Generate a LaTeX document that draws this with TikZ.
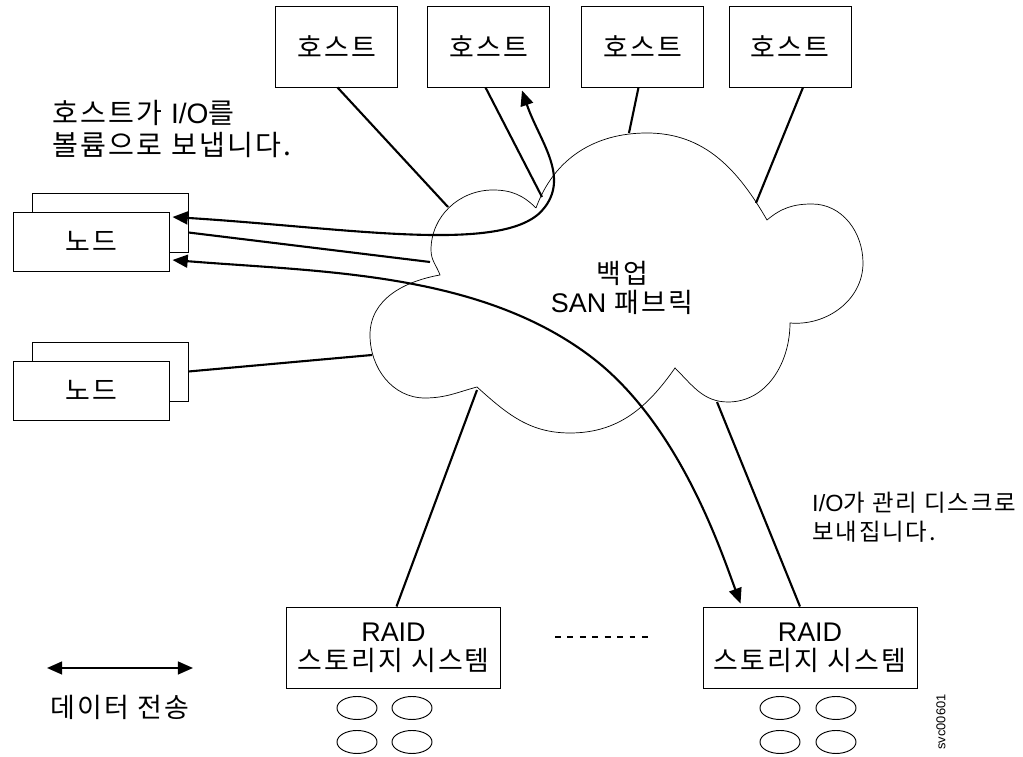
\documentclass[tikz,border=0pt]{standalone}
\usepackage{fontspec}
\setmainfont{Noto Sans CJK KR}[LetterSpace=8]
\newfontfamily\latfont{Liberation Sans}
\usetikzlibrary{calc,arrows.meta}

\tikzset{
  box/.style={draw=black, line width=0.8pt, fill=white, inner sep=0pt},
  hostbox/.style={box, minimum width=3.66cm, minimum height=2.43cm},
  nodebox/.style={box, minimum width=4.68cm, minimum height=1.77cm},
  raidbox/.style={box, minimum width=6.42cm, minimum height=2.43cm, align=center},
  link/.style={black, line width=1.8pt},
  flow/.style={black, line width=1.8pt, {Triangle[length=13pt,width=11pt]}-{Triangle[length=13pt,width=11pt]}},
  cloudline/.style={black, line width=0.6pt},
  dotline/.style={black, line width=1.3pt, dash pattern=on 5pt off 5.6pt}
}

\begin{document}
\begin{tikzpicture}[x=0.03cm, y=0.03cm, every node/.style={font=\fontsize{23}{25}\selectfont}]
\useasboundingbox (0,0) rectangle (1023,757);

% cloud
\draw[cloudline] (536,549) to[out=70,in=180] (647,624) to[out=0,in=120] (767,537)
  to[out=40,in=180] (812,553) to[out=0,in=90] (863,494) to[out=-90,in=-5] (790,434)
  to[out=-90,in=0] (728,355) to[out=180,in=-45] (675,389)
  to[out=-125,in=0] (570,324) to[out=180,in=-42] (477,370)
  to[out=-165,in=0] (425,359) to[out=180,in=-90] (370,422) to[out=90,in=190] (440,482)
  to[out=110,in=-90] (431,507) to[out=90,in=180] (493,567) to[out=0,in=135] (536,549);
\node (san) at (622,469) [align=center] {백업\\{\latfont SAN} 패브릭};

\node[hostbox] (h1) at (336.5,710.5) {호스트};
\node[hostbox] (h2) at (488.5,710.5) {호스트};
\node[hostbox] (h3) at (642.5,710.5) {호스트};
\node[hostbox] (h4) at (790,710.5) {호스트};

\node[nodebox] (node1b) at (110,534.5) {};
\node[nodebox] (node1) at (91,515.5) {노드};
\node[nodebox] (node2b) at (110,385.5) {};
\node[nodebox] (node2) at (91,366.5) {노드};

\node[raidbox, font=\fontsize{23}{24.7}\selectfont] (raid1) at (393.5,109.5) {{\latfont RAID}\\스토리지 시스템};
\node[raidbox, font=\fontsize{23}{24.7}\selectfont] (raid2) at (810,109.5) {{\latfont RAID}\\스토리지 시스템};
\foreach \ex/\ey in {357/49, 412/49, 357/15, 412/15, 780/49, 836/49, 780/15, 836/15}
  \draw[box] (\ex,\ey) ellipse [x radius=0.6cm, y radius=0.345cm];
\draw[dotline] (555,120) -- (652,120);

\coordinate (c1) at (448,550);
\coordinate (c2) at (542,560);
\coordinate (c3) at (629,624);
\coordinate (c4) at (756,554);
\coordinate (c5) at (430,495);
\coordinate (c6) at (372,402);
\coordinate (c7) at (477,367);
\coordinate (c8) at (717,355);

\draw[link] ($(h1.south)+(1,0)$) -- (c1);
\draw[link] ($(h2.south)+(-3,0)$) -- (c2);
\draw[link] ($(h3.south)+(-4,0)$) -- (c3);
\draw[link] ($(h4.south)+(13,0)$) -- (c4);
\draw[link] ($(node1b.east)+(0,-10)$) -- (c5);
\draw[link] (node2b.east) -- (c6);
\draw[link] ($(raid1.north)+(3,0)$) -- (c7);
\draw[link] ($(raid2.north)+(-10,0)$) -- (c8);

\draw[flow] ($(node1.east)+(3,24.5)$) .. controls (350,529) and (510,501) .. (545,550)
  .. controls (569,582) and (539,617) .. ($(h2.south)+(33.5,-3)$);
\draw[flow] ($(node1.east)+(3,-18.5)$) .. controls (322,485) and (478,485) .. (590,401)
  .. controls (678,335) and (720,209) .. ($(raid2.north west)+(38,3)$);

\node[anchor=west, align=left, inner sep=0pt, font=\fontsize{24}{27}\selectfont] (hostio) at (52,628) {호스트가 {\latfont I/O}를\\볼륨으로 보냅니다.};
\node[anchor=west, align=left, inner sep=0pt, font=\fontsize{20}{25}\selectfont] (diskio) at (812,240) {{\latfont I/O}가 관리 디스크로\\보내집니다.};

\coordinate (la) at (47,89);
\coordinate (lb) at (193,89);
\draw[flow] (la) -- (lb);
\node (legend) at (120,50) {데이터 전송};

\node[rotate=90, font=\latfont\fontsize{11}{13}\selectfont] (svc) at (941,35) {svc00601};
\end{tikzpicture}
\end{document}
